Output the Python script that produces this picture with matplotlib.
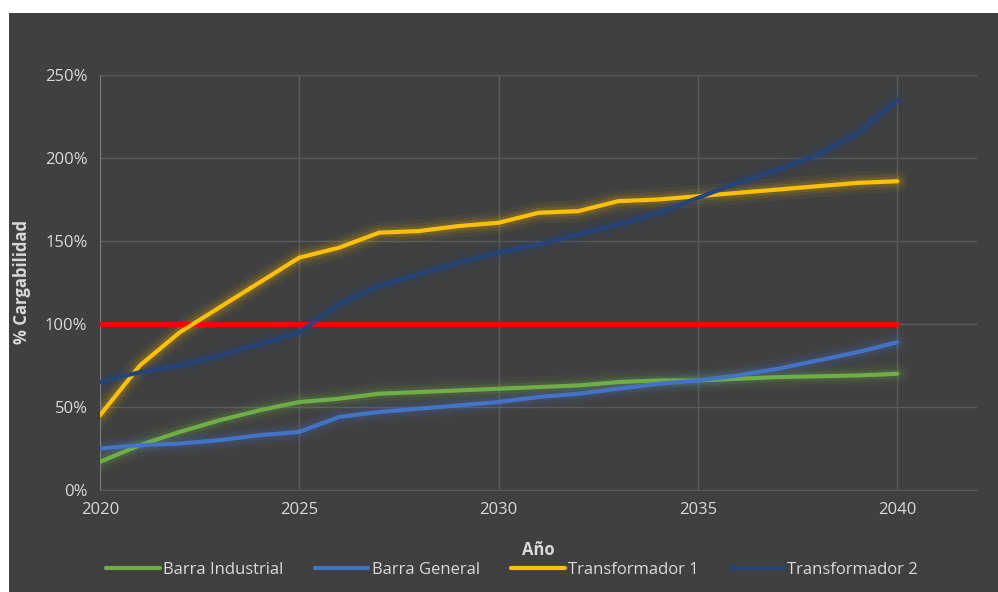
import numpy as np
import matplotlib.pyplot as plt

plt.rcParams['font.family'] = ['Open Sans', 'DejaVu Sans']

anios = list(range(2020, 2041))
barra_industrial = [17, 27, 35, 42, 48, 53, 55, 58, 59, 60, 61, 62, 63, 65, 66, 66, 67, 68, 68.5, 69, 70]
barra_general = [25, 27, 28, 30, 33, 35, 44, 47, 49, 51, 53, 56, 58, 61, 64, 66, 69, 73, 78, 83, 89]
transformador_1 = [45, 75, 95, 110, 125, 140, 146, 155, 156, 159, 161, 167, 168, 174, 175, 177, 179, 181, 183, 185, 186]
transformador_2 = [65, 71, 75, 81, 88, 95, 112, 123, 130, 137, 143, 148, 154, 160, 167, 176, 185, 193, 202, 215, 235]
limite = [100] * len(anios)

fondo = '#404040'
texto = '#d9d9d9'

fig = plt.figure(figsize=(9.98, 5.92), dpi=100, facecolor='white')
# panel oscuro del gráfico (deja un borde blanco arriba y a la izquierda)
panel = fig.add_axes([9 / 998, 0, 989 / 998, 1 - 13 / 592], zorder=0)
panel.set_facecolor(fondo)
panel.set_xticks([])
panel.set_yticks([])
for s in panel.spines.values():
    s.set_visible(False)

ax = fig.add_axes([100 / 998, 1 - 490 / 592, 877 / 998, 415 / 592], zorder=1)
ax.set_facecolor(fondo)

series = [
    (barra_industrial, '#70ad47', 'Barra Industrial'),
    (barra_general, '#4472c4', 'Barra General'),
    (transformador_1, '#ffc000', 'Transformador 1'),
    (transformador_2, '#264478', 'Transformador 2'),
]

# resplandor suave debajo de cada línea
for valores, color, nombre in series:
    for w, a in [(16, 0.05), (11, 0.08), (7, 0.14)]:
        ax.plot(anios, valores, color=color, lw=w, alpha=a, solid_capstyle='round', zorder=2)

ax.plot(anios, limite, color='#ff0000', lw=3.5, zorder=3)

lineas = []
for valores, color, nombre in series:
    l, = ax.plot(anios, valores, color=color, lw=3, label=nombre, solid_capstyle='round', zorder=4)
    lineas.append(l)

ax.set_xlim(2020, 2042)
ax.set_ylim(0, 250)
ax.set_xticks([2020, 2025, 2030, 2035, 2040])
ax.set_yticks([0, 50, 100, 150, 200, 250])
ax.set_yticklabels([f'{v}%' for v in [0, 50, 100, 150, 200, 250]])
ax.grid(True, color='#5a5a5a', lw=1)
ax.set_axisbelow(True)
for lado in ['top', 'right']:
    ax.spines[lado].set_visible(False)
ax.spines['left'].set_color('#7a7a7a')
ax.spines['bottom'].set_color('#5a5a5a')
ax.tick_params(colors=texto, labelsize=12, length=0, pad=9)

ax.set_xlabel('Año', color=texto, fontsize=12, fontweight='bold', labelpad=16)
ax.set_ylabel('% Cargabilidad', color=texto, fontsize=12, fontweight='bold', labelpad=10)

fig.legend(handles=lineas, loc='center', bbox_to_anchor=(0.513, 0.037), ncol=4, frameon=False,
           fontsize=12, labelcolor=texto, handlelength=3.2, handletextpad=0.2, columnspacing=1.9)

plt.savefig('out.png', dpi=100)
